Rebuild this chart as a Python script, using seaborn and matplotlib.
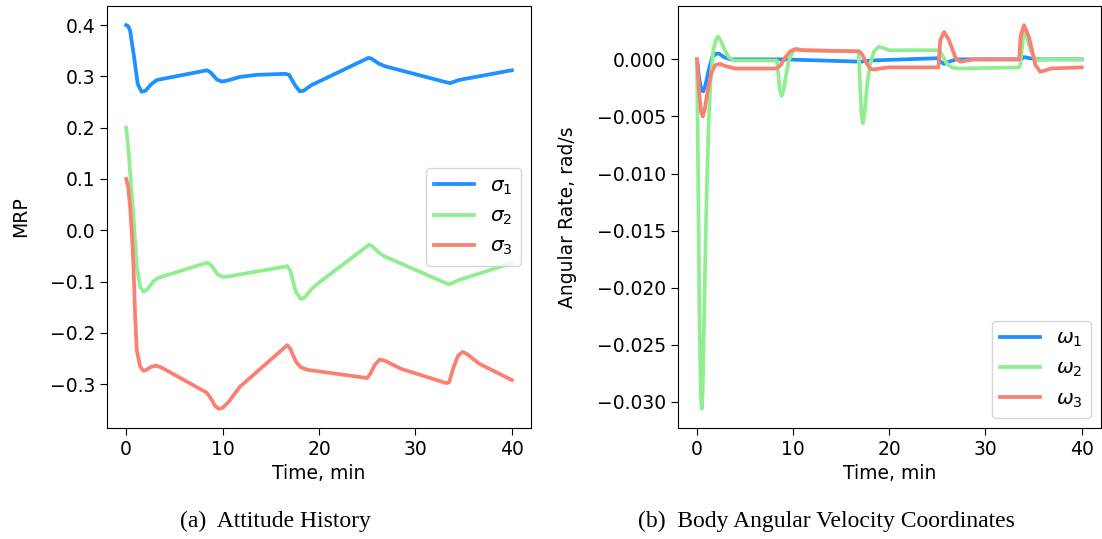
import numpy as np
import pandas as pd
import seaborn as sns
import matplotlib.pyplot as plt

# attitude history (MRP)
t_s1 = [0, 0.2, 0.4, 0.8, 1.2, 1.6, 2.0, 2.6, 3.2, 4.0, 8.4, 8.8, 9.4, 9.9, 10.5, 11.8, 13.5,
        16.5, 16.9, 17.5, 18.0, 18.4, 19.2, 20.0, 25.1, 25.4, 26.2, 26.8, 33.3, 33.6, 34.5, 40]
sigma1 = [0.400, 0.398, 0.390, 0.340, 0.285, 0.270, 0.272, 0.285, 0.293, 0.296, 0.312, 0.307,
          0.294, 0.290, 0.292, 0.299, 0.303, 0.305, 0.303, 0.283, 0.271, 0.272, 0.283, 0.290,
          0.336, 0.335, 0.325, 0.320, 0.288, 0.287, 0.293, 0.312]

t_s2 = [0, 0.24, 0.5, 0.76, 1.1, 1.45, 1.8, 2.3, 2.8, 3.3, 8.4, 8.8, 9.5, 10.0, 10.6, 16.7, 17.0,
        17.6, 18.1, 18.5, 19.2, 20.0, 25.2, 25.5, 26.3, 26.8, 33.4, 33.7, 34.5, 40]
sigma2 = [0.200, 0.156, 0.090, 0.026, -0.071, -0.110, -0.120, -0.113, -0.100, -0.093, -0.063,
          -0.068, -0.086, -0.091, -0.090, -0.070, -0.078, -0.120, -0.134, -0.131, -0.115, -0.102,
          -0.028, -0.031, -0.045, -0.051, -0.105, -0.104, -0.097, -0.064]

t_s3 = [0, 0.2, 0.41, 0.59, 0.76, 0.93, 1.1, 1.45, 1.8, 2.1, 2.6, 3.1, 3.6, 8.3, 8.7, 9.2, 9.6,
        10.0, 10.6, 11.8, 16.7, 17.0, 17.6, 18.1, 18.8, 25.0, 25.3, 25.8, 26.3, 26.8, 28.5, 33.2,
        33.5, 33.9, 34.4, 34.9, 35.4, 36.6, 40]
sigma3 = [0.100, 0.085, 0.045, -0.007, -0.071, -0.169, -0.234, -0.266, -0.274, -0.272, -0.266,
          -0.264, -0.267, -0.316, -0.325, -0.342, -0.348, -0.346, -0.335, -0.305, -0.224, -0.230,
          -0.256, -0.267, -0.272, -0.288, -0.280, -0.262, -0.252, -0.254, -0.270, -0.298, -0.296,
          -0.270, -0.245, -0.237, -0.242, -0.260, -0.292]

# body angular rates, rad/s
t_w1 = [0, 0.2, 0.45, 0.65, 0.9, 1.2, 1.6, 2.0, 2.3, 2.8, 3.5, 9.0, 17.0, 18.0, 25.0, 25.3,
        25.7, 26.2, 27.0, 33.7, 34.0, 34.6, 35.5, 40]
omega1 = [0.0, -0.0015, -0.0027, -0.0028, -0.0022, -0.0010, 0.0002, 0.0005, 0.0005, 0.0002,
          0.0, 0.0, -0.0002, -0.0001, 0.0001, -0.0002, -0.0004, -0.0002, 0.0, 0.0, 0.0002,
          0.0001, 0.0, 0.0]

t_w2 = [0, 0.1, 0.25, 0.4, 0.5, 0.6, 0.8, 1.0, 1.2, 1.4, 1.7, 2.0, 2.2, 2.5, 2.9, 3.3, 3.8, 8.3,
        8.45, 8.6, 8.8, 9.0, 9.3, 9.6, 10.0, 10.4, 11.0, 16.8, 16.95, 17.1, 17.25, 17.45, 17.7,
        18.0, 18.4, 18.9, 19.4, 20.0, 25.2, 25.6, 26.0, 26.5, 27.2, 33.5, 33.6, 33.8, 34.0, 34.2,
        34.6, 35.0, 35.5, 36.0, 40]
omega2 = [0.0, -0.008, -0.022, -0.0295, -0.0306, -0.029, -0.020, -0.012, -0.006, -0.002,
          0.0008, 0.0018, 0.0020, 0.0016, 0.0008, 0.0002, -0.0001, -0.0001, -0.0012, -0.0026,
          -0.0032, -0.0027, -0.0012, 0.0, 0.0007, 0.0009, 0.0008, 0.0007, -0.0020, -0.0048,
          -0.0056, -0.0045, -0.0022, -0.0004, 0.0007, 0.0011, 0.0010, 0.0008, 0.0008, 0.0002,
          -0.0004, -0.0007, -0.0008, -0.0007, -0.0005, 0.0010, 0.0027, 0.0024, 0.0010, 0.0002,
          -0.0001, 0.0, 0.0]

t_w3 = [0, 0.2, 0.4, 0.6, 0.8, 1.1, 1.5, 1.9, 2.4, 3.0, 4.0, 8.3, 8.7, 9.2, 9.7, 10.2, 11.0,
        16.9, 17.2, 17.6, 18.0, 18.4, 19.0, 20.0, 25.1, 25.3, 25.7, 26.2, 26.9, 27.4, 28.8, 33.5,
        33.65, 34.0, 34.5, 35.2, 35.7, 36.8, 40]
omega3 = [0.0, -0.0025, -0.0045, -0.0050, -0.0044, -0.0028, -0.0012, -0.0005, -0.0004, -0.0006,
          -0.0008, -0.0008, -0.0005, 0.0002, 0.0007, 0.0009, 0.0008, 0.0007, 0.0004, -0.0003,
          -0.0008, -0.0009, -0.0008, -0.0007, -0.0007, 0.0017, 0.0024, 0.0017, 0.0001, -0.0002,
          0.0, 0.0, 0.0020, 0.0030, 0.0020, -0.0005, -0.0011, -0.0008, -0.0007]

colors = ['dodgerblue', 'lightgreen', 'salmon']

plt.rcParams['font.size'] = 13.5
plt.rcParams['legend.fontsize'] = 14.5

fig = plt.figure(figsize=(11.02, 5.39), dpi=100)
ax1 = fig.add_axes([0.097, 0.206, 0.385, 0.783])
ax2 = fig.add_axes([0.615, 0.206, 0.384, 0.783])

left = [(t_s1, sigma1, r'$\sigma_1$'), (t_s2, sigma2, r'$\sigma_2$'), (t_s3, sigma3, r'$\sigma_3$')]
for (t, y, lab), c in zip(left, colors):
    sns.lineplot(x=t, y=y, ax=ax1, color=c, linewidth=2.7, label=lab, estimator=None)
ax1.set_xlabel('Time, min')
ax1.set_ylabel('MRP', labelpad=14)
ax1.legend(loc='center right')

right = [(t_w1, omega1, r'$\omega_1$'), (t_w2, omega2, r'$\omega_2$'), (t_w3, omega3, r'$\omega_3$')]
for (t, y, lab), c in zip(right, colors):
    sns.lineplot(x=t, y=y, ax=ax2, color=c, linewidth=2.7, label=lab, estimator=None)
ax2.set_xlabel('Time, min')
ax2.set_ylabel('Angular Rate, rad/s', labelpad=14)
ax2.legend(loc='lower right')

for ax in (ax1, ax2):
    ax.set_xticks([0, 10, 20, 30, 40])
    ax.tick_params(length=5)

fig.text(0.25, 0.032, '(a)  Attitude History', ha='center', va='center',
         family='Liberation Serif', fontsize=17)
fig.text(0.75, 0.032, '(b)  Body Angular Velocity Coordinates', ha='center', va='center',
         family='Liberation Serif', fontsize=17)

fig.savefig('out.png', dpi=100)
